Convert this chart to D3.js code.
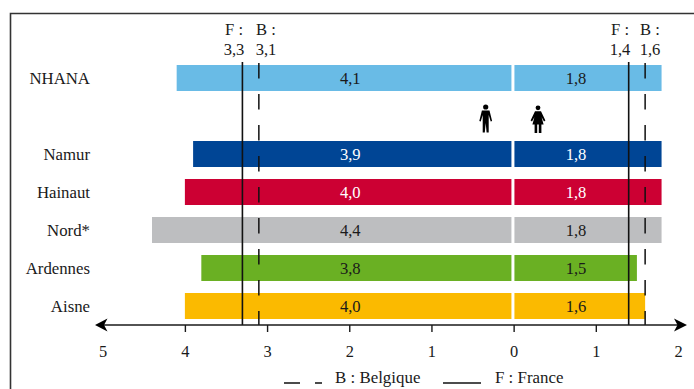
<!DOCTYPE html>
<html lang="fr">
<head>
<meta charset="utf-8">
<script src="https://cdn.jsdelivr.net/npm/d3@7/dist/d3.min.js"></script>
<style>
  html, body { margin: 0; padding: 0; background: #fff; }
  svg { display: block; }
  text { font-family: "Liberation Serif", "Times New Roman", serif; fill: #1a1a1a; }
</style>
</head>
<body>
<svg id="chart" width="694" height="389"></svg>
<script>
// Rows from top to bottom; the blank entry leaves the gap under NHANA.
const regions = ["NHANA", " ", "Namur", "Hainaut", "Nord*", "Ardennes", "Aisne"];
const menValues = [4.1, null, 3.9, 4.0, 4.4, 3.8, 4.0];
const womenValues = [1.8, null, 1.8, 1.8, 1.8, 1.5, 1.6];
const barColors = ["#69BBE6", null, "#004595", "#CC0033", "#BDBEC0", "#6AB023", "#FBBA00"];
const valueTextColors = ["#1a1a1a", null, "#ffffff", "#ffffff", "#1a1a1a", "#1a1a1a", "#1a1a1a"];
const axisTicks = [-5, -4, -3, -2, -1, 0, 1, 2];
const referenceLines = [
  { side: -1, country: "F", value: 3.3, labelX: 234 },
  { side: -1, country: "B", value: 3.1, labelX: 266 },
  { side: 1, country: "F", value: 1.4, labelX: 620 },
  { side: 1, country: "B", value: 1.6, labelX: 650 }
];

const AXIS_Y = 325;
const DASHES = "15.5 15.5";
const svg = d3.select("#chart");
const decimal = v => v.toFixed(1).replace(".", ",");

const x = d3.scaleLinear().domain([-5, 2]).range([102.7, 678]);
const y = d3.scaleBand().domain(regions).range([59, 325])
  .paddingInner(12 / 38).paddingOuter(6 / 38);

// Outer frame, open towards the right and the bottom of the page.
svg.append("path")
  .attr("d", "M10.5,389V13.5H694")
  .attr("fill", "none").attr("stroke", "#333").attr("stroke-width", 1.6);

// Mirrored bars, separated by a thin white gap around zero.
const rows = regions.map((name, i) => ({
  name, men: menValues[i], women: womenValues[i],
  color: barColors[i], textColor: valueTextColors[i]
})).filter(r => r.men !== null);

const row = svg.append("g").selectAll("g").data(rows).join("g");

row.append("rect")
  .attr("x", d => x(-d.men))
  .attr("y", d => y(d.name))
  .attr("width", d => x(0) - 2.2 - x(-d.men))
  .attr("height", y.bandwidth())
  .attr("fill", d => d.color);

row.append("rect")
  .attr("x", x(0) + 0.8)
  .attr("y", d => y(d.name))
  .attr("width", d => x(d.women) - x(0) - 0.8)
  .attr("height", y.bandwidth())
  .attr("fill", d => d.color);

const rowBaseline = d => y(d.name) + y.bandwidth() / 2 + 5.6;

row.append("text")
  .attr("x", 90).attr("y", rowBaseline)
  .attr("text-anchor", "end").attr("font-size", 16.8)
  .text(d => d.name);

row.append("text")
  .attr("x", x(-2) + 1).attr("y", rowBaseline)
  .attr("text-anchor", "middle").attr("font-size", 16.6)
  .style("fill", d => d.textColor)
  .text(d => decimal(d.men));

row.append("text")
  .attr("x", 576).attr("y", rowBaseline)
  .attr("text-anchor", "middle").attr("font-size", 16.6)
  .style("fill", d => d.textColor)
  .text(d => decimal(d.women));

// National reference lines with their two-line captions.
const refs = svg.append("g").selectAll("g").data(referenceLines).join("g");

refs.append("line")
  .attr("x1", d => x(d.side * d.value)).attr("x2", d => x(d.side * d.value))
  .attr("y1", d => d.country === "F" ? 62 : 63).attr("y2", AXIS_Y)
  .attr("stroke", "#111")
  .attr("stroke-width", d => d.country === "F" ? 1.6 : 1.5)
  .attr("stroke-dasharray", d => d.country === "B" ? DASHES : null);

refs.append("text")
  .attr("x", d => d.labelX).attr("y", 35)
  .attr("text-anchor", "middle").attr("font-size", 16.6)
  .text(d => d.country + " :");

refs.append("text")
  .attr("x", d => d.labelX).attr("y", 55)
  .attr("text-anchor", "middle").attr("font-size", 16.6)
  .text(d => decimal(d.value));

// Value axis, read outwards from zero in both directions.
const axis = svg.append("g")
  .attr("transform", `translate(0,${AXIS_Y})`)
  .call(d3.axisBottom(x).tickValues(axisTicks).tickSize(7).tickPadding(13)
    .tickFormat(d => Math.abs(d)));
axis.select(".domain").remove();
axis.selectAll(".tick line").attr("stroke", "#1a1a1a").attr("stroke-width", 1.4);
axis.selectAll(".tick text")
  .attr("font-size", 16.4).attr("font-family", null);
// The outermost labels have no tick mark: the arrowheads sit there instead.
axis.selectAll(".tick").filter(d => d === 2 || d === -5).select("line").remove();

svg.append("line")
  .attr("x1", 100).attr("x2", 682).attr("y1", AXIS_Y).attr("y2", AXIS_Y)
  .attr("stroke", "#1a1a1a").attr("stroke-width", 1.5);
svg.append("path")
  .attr("d", "M95,325L107.5,318.5L104,325L107.5,331.5Z")
  .attr("fill", "#000");
svg.append("path")
  .attr("d", "M687,325L674,318.5L677.5,325L674,331.5Z")
  .attr("fill", "#000");

// Pictograms for men and women above the Namur row.
const man = svg.append("g").attr("transform", "translate(485.7,104)").attr("fill", "#000");
man.append("circle").attr("cx", 0).attr("cy", 3).attr("r", 2.6);
man.append("path").attr("d",
  "M-3.8,6.6H3.8L6.4,17L5,17.6L3,11L3,18.5L3,28.5H0.9L0,19L-0.9,28.5H-3L-3,18.5L-3,11L-5,17.6L-6.4,17Z");

const woman = svg.append("g").attr("transform", "translate(538,105)").attr("fill", "#000");
woman.append("circle").attr("cx", 0).attr("cy", 2.8).attr("r", 2.4);
woman.append("path").attr("d",
  "M-3,6.2H3L7.4,15.5L6,16.4L3.6,12.2L5.6,19.4H3.4V28H0.8V19.4H-0.8V28H-3.4V19.4H-5.6L-3.6,12.2L-6,16.4L-7.4,15.5Z");

// Legend along the bottom edge.
const legend = svg.append("g");
legend.append("line")
  .attr("x1", 284).attr("x2", 322).attr("y1", 383).attr("y2", 383)
  .attr("stroke", "#111").attr("stroke-width", 1.5)
  .attr("stroke-dasharray", "16 15 7");
legend.append("text")
  .attr("x", 335).attr("y", 383).attr("font-size", 16.9)
  .text("B : Belgique");
legend.append("line")
  .attr("x1", 443).attr("x2", 481).attr("y1", 383).attr("y2", 383)
  .attr("stroke", "#111").attr("stroke-width", 1.5);
legend.append("text")
  .attr("x", 495).attr("y", 383).attr("font-size", 16.9)
  .text("F : France");
</script>
</body>
</html>
